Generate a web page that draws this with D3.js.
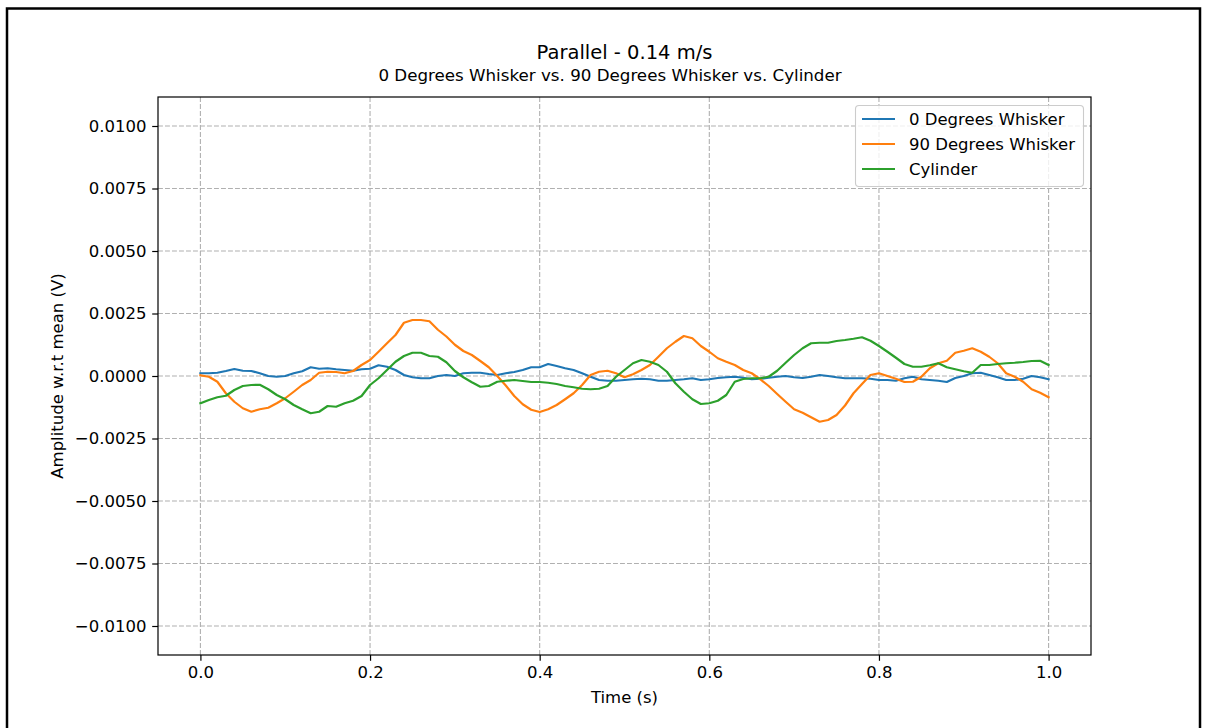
<!DOCTYPE html>
<html>
<head>
<meta charset="utf-8">
<script src="https://cdn.jsdelivr.net/npm/d3@7"></script>
<style>
  html, body { margin: 0; padding: 0; background: #fff; }
  svg { display: block; font-family: "DejaVu Sans", sans-serif; }
</style>
</head>
<body>
<svg id="chart" width="1208" height="728"></svg>
<script>
// ---- Data (values in volts) ----
const seriesNames = ["0 Degrees Whisker", "90 Degrees Whisker", "Cylinder"];
const seriesColors = ["#1f77b4", "#ff7f0e", "#2ca02c"];
const timeValues = d3.range(101).map(i => i / 100);

const whisker0 = [
  1.1e-4, 1.1e-4, 1.3e-4, 2.0e-4, 2.8e-4, 2.1e-4, 2.0e-4, 1.1e-4, 0, -0.3e-4,
  0, 1.1e-4, 1.9e-4, 3.5e-4, 2.9e-4, 3.1e-4, 2.7e-4, 2.4e-4, 2.1e-4, 2.7e-4,
  2.9e-4, 4.3e-4, 3.7e-4, 2.4e-4, 0.4e-4, -0.5e-4, -0.9e-4, -0.9e-4, 0, 0.4e-4,
  0, 1.1e-4, 1.3e-4, 1.3e-4, 0.8e-4, 0.4e-4, 1.1e-4, 1.6e-4, 2.4e-4, 3.5e-4,
  3.5e-4, 4.8e-4, 4.0e-4, 3.1e-4, 2.4e-4, 1.1e-4, -0.3e-4, -1.6e-4, -1.9e-4, -1.9e-4,
  -1.6e-4, -1.3e-4, -1.1e-4, -1.3e-4, -1.9e-4, -1.9e-4, -1.6e-4, -1.3e-4, -0.9e-4, -1.6e-4,
  -1.3e-4, -0.8e-4, -0.5e-4, -0.3e-4, -0.7e-4, -1.3e-4, -1.1e-4, -0.7e-4, -0.3e-4, 0,
  -0.5e-4, -0.8e-4, -0.3e-4, 0.4e-4, 0, -0.5e-4, -0.9e-4, -0.9e-4, -0.9e-4, -1.1e-4,
  -1.6e-4, -1.6e-4, -1.9e-4, -0.9e-4, -0.3e-4, -1.3e-4, -1.6e-4, -1.9e-4, -2.4e-4, -0.8e-4,
  0, 1.1e-4, 1.3e-4, 0.4e-4, -0.5e-4, -1.6e-4, -1.6e-4, -1.1e-4, 0, -0.5e-4, -1.3e-4
];
const whisker90 = [
  0.3e-4, -0.3e-4, -2.3e-4, -6.9e-4, -10.3e-4, -12.9e-4, -14.3e-4, -13.3e-4, -12.7e-4, -10.9e-4,
  -8.9e-4, -6.3e-4, -3.6e-4, -1.6e-4, 1.3e-4, 1.7e-4, 1.6e-4, 1.1e-4, 2.0e-4, 4.4e-4,
  6.4e-4, 9.7e-4, 13.1e-4, 16.4e-4, 21.3e-4, 22.4e-4, 22.4e-4, 21.9e-4, 18.5e-4, 15.8e-4,
  12.5e-4, 10.0e-4, 8.4e-4, 6.0e-4, 3.5e-4, 0, -3.8e-4, -8.0e-4, -11.3e-4, -13.5e-4,
  -14.4e-4, -13.3e-4, -11.6e-4, -9.3e-4, -6.9e-4, -3.6e-4, 0.4e-4, 1.7e-4, 2.1e-4, 1.1e-4,
  -0.5e-4, 0.7e-4, 2.4e-4, 4.4e-4, 7.7e-4, 11.1e-4, 13.7e-4, 16.0e-4, 15.1e-4, 12.0e-4,
  9.7e-4, 7.1e-4, 5.7e-4, 4.4e-4, 2.4e-4, 1.1e-4, -1.3e-4, -4.0e-4, -7.2e-4, -10.3e-4,
  -13.3e-4, -14.7e-4, -16.5e-4, -18.3e-4, -17.6e-4, -15.6e-4, -11.8e-4, -6.9e-4, -3.2e-4, 0.4e-4,
  1.1e-4, 0, -1.1e-4, -2.4e-4, -2.3e-4, -0.3e-4, 3.1e-4, 5.1e-4, 6.1e-4, 9.3e-4,
  10.1e-4, 11.1e-4, 9.7e-4, 7.7e-4, 5.1e-4, 1.1e-4, -0.3e-4, -2.3e-4, -5.3e-4, -6.7e-4, -8.5e-4
];
const cylinder = [
  -10.9e-4, -9.6e-4, -8.5e-4, -7.9e-4, -5.6e-4, -4.0e-4, -3.6e-4, -3.5e-4, -5.3e-4, -7.6e-4,
  -9.3e-4, -11.6e-4, -13.3e-4, -14.9e-4, -14.3e-4, -12.0e-4, -12.3e-4, -10.9e-4, -9.9e-4, -8.0e-4,
  -3.6e-4, -0.9e-4, 2.4e-4, 5.7e-4, 8.0e-4, 9.3e-4, 9.3e-4, 8.0e-4, 7.7e-4, 5.5e-4,
  2.0e-4, -0.5e-4, -2.5e-4, -4.3e-4, -4.0e-4, -2.3e-4, -1.9e-4, -1.6e-4, -2.0e-4, -2.4e-4,
  -2.4e-4, -2.7e-4, -3.2e-4, -4.0e-4, -4.5e-4, -5.1e-4, -5.3e-4, -5.1e-4, -4.0e-4, -0.3e-4,
  2.4e-4, 5.1e-4, 6.4e-4, 5.7e-4, 4.4e-4, 1.7e-4, -2.9e-4, -6.3e-4, -9.3e-4, -11.2e-4,
  -10.9e-4, -9.9e-4, -7.6e-4, -2.3e-4, -1.2e-4, -0.9e-4, -0.9e-4, -0.3e-4, 2.1e-4, 5.3e-4,
  8.4e-4, 11.1e-4, 13.1e-4, 13.3e-4, 13.3e-4, 14.0e-4, 14.4e-4, 14.9e-4, 15.5e-4, 14.1e-4,
  12.0e-4, 9.7e-4, 7.3e-4, 4.8e-4, 3.7e-4, 3.7e-4, 4.3e-4, 5.1e-4, 3.5e-4, 2.7e-4,
  1.9e-4, 1.3e-4, 4.4e-4, 4.4e-4, 4.8e-4, 5.1e-4, 5.3e-4, 5.6e-4, 6.0e-4, 6.1e-4, 4.4e-4
];
const seriesValues = [whisker0, whisker90, cylinder];

const xTicks = [0.0, 0.2, 0.4, 0.6, 0.8, 1.0];
const yTicks = [-0.0100, -0.0075, -0.0050, -0.0025, 0.0000, 0.0025, 0.0050, 0.0075, 0.0100];
const titleText = "Parallel - 0.14 m/s";
const subtitleText = "0 Degrees Whisker vs. 90 Degrees Whisker vs. Cylinder";
const xLabel = "Time (s)";
const yLabel = "Amplitude w.r.t mean (V)";

// ---- Layout ----
const svg = d3.select("#chart");
const W = 1208, H = 728;
const plot = { left: 158, right: 1091, top: 97, bottom: 655 };

svg.append("rect").attr("x", 0).attr("y", 0).attr("width", W).attr("height", H).attr("fill", "#fff");
// outer figure frame
svg.append("rect").attr("x", 7).attr("y", 8.5).attr("width", 1193).attr("height", 760)
  .attr("fill", "none").attr("stroke", "#000").attr("stroke-width", 2.5);

const x = d3.scaleLinear().domain([-0.05, 1.05]).range([plot.left, plot.right]);
const y = d3.scaleLinear().domain([-0.01116, 0.01116]).range([plot.bottom, plot.top]);

const fmtY = v => d3.format(".4f")(v).replace("-", "\u2212");
const fmtX = v => d3.format(".1f")(v);

// grid
const grid = svg.append("g");
grid.selectAll(".gx").data(xTicks).join("line")
  .attr("x1", d => x(d)).attr("x2", d => x(d))
  .attr("y1", plot.top).attr("y2", plot.bottom)
  .attr("stroke", "#b0b0b0").attr("stroke-width", 1.1).attr("stroke-dasharray", "4.9,2.1");
grid.selectAll(".gy").data(yTicks).join("line")
  .attr("x1", plot.left).attr("x2", plot.right)
  .attr("y1", d => y(d)).attr("y2", d => y(d))
  .attr("stroke", "#b0b0b0").attr("stroke-width", 1.1).attr("stroke-dasharray", "4.9,2.1");

// lines
svg.append("clipPath").attr("id", "clip").append("rect")
  .attr("x", plot.left).attr("y", plot.top)
  .attr("width", plot.right - plot.left).attr("height", plot.bottom - plot.top);
const line = d3.line().x(d => x(d[0])).y(d => y(d[1]));
seriesValues.forEach((vals, i) => {
  svg.append("path")
    .datum(timeValues.map((t, j) => [t, vals[j]]))
    .attr("clip-path", "url(#clip)")
    .attr("fill", "none").attr("stroke", seriesColors[i])
    .attr("stroke-width", 2.2).attr("stroke-linejoin", "round").attr("stroke-linecap", "square")
    .attr("d", line);
});

// axes
const xAxis = d3.axisBottom(x).tickValues(xTicks).tickFormat(fmtX).tickSize(5.8).tickPadding(5.8);
const yAxis = d3.axisLeft(y).tickValues(yTicks).tickFormat(fmtY).tickSize(5.8).tickPadding(5.8);
const gx = svg.append("g").attr("transform", `translate(0,${plot.bottom})`).call(xAxis);
const gy = svg.append("g").attr("transform", `translate(${plot.left},0)`).call(yAxis);
[gx, gy].forEach(g => {
  g.select(".domain").remove();
  g.selectAll(".tick line").attr("stroke", "#000").attr("stroke-width", 1.2);
  g.selectAll(".tick text").attr("fill", "#000").attr("font-size", "16.5px")
    .attr("font-family", "DejaVu Sans, sans-serif");
});

// spines
svg.append("rect").attr("x", plot.left).attr("y", plot.top)
  .attr("width", plot.right - plot.left).attr("height", plot.bottom - plot.top)
  .attr("fill", "none").attr("stroke", "#000").attr("stroke-width", 1.2);

// titles
const cx = (plot.left + plot.right) / 2;
svg.append("text").attr("x", cx).attr("y", 59).attr("text-anchor", "middle")
  .attr("font-size", "19.5px").attr("fill", "#000").text(titleText);
svg.append("text").attr("x", 610).attr("y", 81).attr("text-anchor", "middle")
  .attr("font-size", "16.7px").attr("fill", "#000").text(subtitleText);

// axis labels
svg.append("text").attr("x", cx).attr("y", 703).attr("text-anchor", "middle")
  .attr("font-size", "16.5px").attr("fill", "#000").text(xLabel);
svg.append("text").attr("transform", `translate(63,${(plot.top + plot.bottom) / 2}) rotate(-90)`)
  .attr("text-anchor", "middle").attr("font-size", "16.5px").attr("fill", "#000").text(yLabel);

// legend
const lg = svg.append("g");
lg.append("rect").attr("x", 855.5).attr("y", 105.5).attr("width", 228).attr("height", 81)
  .attr("rx", 3.5).attr("fill", "#fff").attr("fill-opacity", 0.8)
  .attr("stroke", "#cccccc").attr("stroke-width", 1.1);
seriesNames.forEach((name, i) => {
  const yy = 119 + i * 25;
  lg.append("line").attr("x1", 862).attr("x2", 895).attr("y1", yy).attr("y2", yy)
    .attr("stroke", seriesColors[i]).attr("stroke-width", 2.2);
  lg.append("text").attr("x", 909).attr("y", yy + 6).attr("font-size", "16.5px")
    .attr("fill", "#000").text(name);
});
</script>
</body>
</html>
